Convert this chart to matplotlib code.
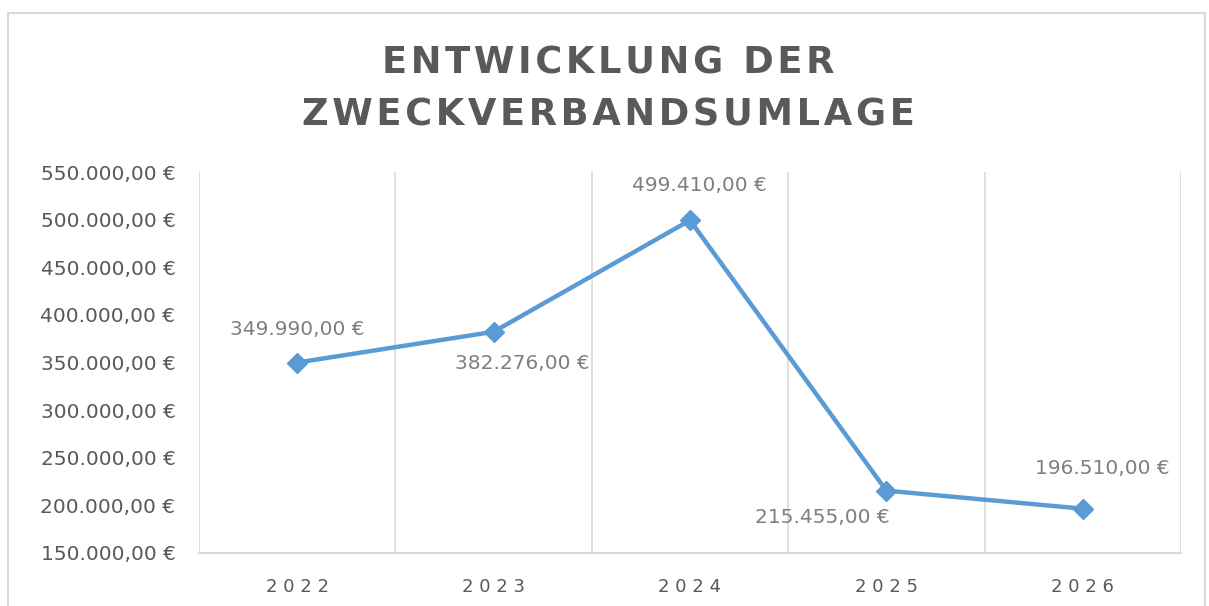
import matplotlib
matplotlib.use("Agg")
import matplotlib.pyplot as plt
from matplotlib.patches import Rectangle
from matplotlib.ticker import FuncFormatter

# data
years = ["2022", "2023", "2024", "2025", "2026"]
values = [349990, 382276, 499410, 215455, 196510]
label_offsets = [(0, 24), (21, -23), (6.5, 25), (-46, -19.5), (14, 29)]  # points
title_lines = ["ENTWICKLUNG DER", "ZWECKVERBANDSUMLAGE"]

plt.rcParams['font.family'] = ['DejaVu Sans']

def euro(v):
    s = f"{v:,.2f}".replace(",", "X").replace(".", ",").replace("X", ".")
    return s + " €"

fig = plt.figure(figsize=(12.09, 6.06), dpi=100)
fig.patches.append(Rectangle((0.0066, -0.05), 0.9901, 1.0285, transform=fig.transFigure,
                             fill=False, edgecolor="#d9d9d9", linewidth=1.5))

ax = fig.add_axes([0.1646, 0.0875, 0.8122, 0.6285])
x = list(range(len(years)))
ax.plot(x, values, color="#5B9BD5", linewidth=3.2, marker="D", markersize=10, zorder=3)

for xi, v, off in zip(x, values, label_offsets):
    ax.annotate(euro(v), (xi, v), xytext=off, textcoords="offset points",
                ha="center", va="center", fontsize=14.5, color="#7f7f7f")

ax.set_xlim(-0.5, len(years) - 0.5)
ax.set_ylim(150000, 550000)
ax.set_yticks(range(150000, 550001, 50000))
ax.yaxis.set_major_formatter(FuncFormatter(lambda v, p: euro(v)))
ax.set_xticks(x)
ax.set_xticklabels([" ".join(y) for y in years])
ax.set_xticks([i - 0.5 for i in range(len(years) + 1)], minor=True)
ax.grid(True, which="minor", axis="x", color="#d9d9d9", linewidth=1.2)
ax.tick_params(axis="both", which="both", length=0, colors="#595959")
ax.tick_params(axis="y", labelsize=14.5, pad=17)
ax.tick_params(axis="x", labelsize=13, pad=18)
for s in ["top", "right", "left"]:
    ax.spines[s].set_visible(False)
ax.spines["bottom"].set_color("#d9d9d9")
ax.spines["bottom"].set_linewidth(1.5)

title = "\n".join("\u200a".join(line) for line in title_lines)
fig.text(0.503, 0.853, title, ha="center", va="center",
         fontsize=26.5, fontweight="bold", color="#595959", linespacing=1.5)

fig.savefig("out.png", dpi=100)
